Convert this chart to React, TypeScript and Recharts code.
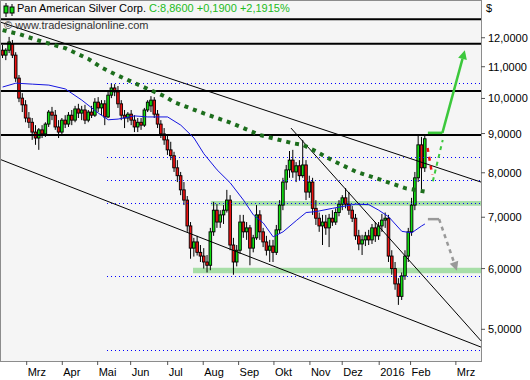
import { Bar, ComposedChart, Line, ReferenceArea, ReferenceLine, XAxis, YAxis } from 'recharts';

// one candle per ~2 trading days, Feb 2015 .. Feb 2016
const opens = [
  11.56, 11.39, 11.56, 11.78, 11.39, 10.63, 10.01, 9.81, 9.43, 9.31,
  9.04, 8.88, 9.1, 8.99, 9.26, 9.6, 9.51, 9.18, 9.04, 9.37,
  9.26, 9.51, 9.37, 9.69, 9.57, 9.66, 9.37, 9.6, 9.51, 9.89,
  9.72, 9.84, 9.46, 10.1, 10.32, 10.2, 9.84, 9.51, 9.43, 9.54,
  9.37, 9.18, 9.31, 9.23, 9.66, 9.78, 9.95, 9.54, 9.26, 8.99,
  8.83, 8.57, 8.42, 8.12, 7.93, 7.6, 7.37, 6.82, 6.38, 6.5,
  6.3, 6.23, 6.12, 6.06, 6.7, 7.15, 6.9, 7.05, 7.15, 7.37,
  6.44, 6.12, 6.34, 6.9, 6.7, 6.78, 6.38, 6.58, 7.05, 6.7,
  6.5, 6.34, 6.42, 6.3, 6.74, 7.26, 7.78, 8.07, 8.31, 8.02,
  8.17, 7.93, 8.19, 7.55, 7.78, 7.19, 6.98, 6.82, 6.9, 6.78,
  6.98, 6.9, 7.1, 7.28, 7.42, 7.28, 7.15, 6.98, 6.62, 6.46,
  6.54, 6.62, 6.54, 6.78, 6.62, 6.82, 6.94, 6.98, 6.23, 6.0,
  5.73, 5.52, 5.87, 6.23, 6.7, 7.26, 7.88, 8.7, 8.12,
];
const highs = [
  11.74, 11.63, 12.03, 11.92, 11.49, 10.73, 10.16, 9.95, 9.6, 9.43,
  9.23, 9.15, 9.23, 9.31, 9.66, 9.75, 9.66, 9.37, 9.43, 9.51,
  9.6, 9.66, 9.78, 9.84, 9.78, 9.81, 9.66, 9.78, 10.01, 10.04,
  9.95, 9.95, 10.2, 10.47, 10.44, 10.38, 9.95, 9.66, 9.6, 9.66,
  9.51, 9.43, 9.43, 9.72, 9.95, 10.07, 10.04, 9.66, 9.37, 9.15,
  8.94, 8.78, 8.52, 8.31, 8.02, 7.78, 7.46, 6.9, 6.58, 6.62,
  6.44, 6.38, 6.25, 6.78, 7.33, 7.28, 7.15, 7.26, 7.6, 7.48,
  6.58, 6.44, 7.05, 7.05, 6.9, 6.84, 6.64, 7.26, 7.15, 6.78,
  6.62, 6.54, 6.54, 6.84, 7.37, 7.88, 8.19, 8.54, 8.57, 8.26,
  8.31, 8.83, 8.31, 7.93, 7.88, 7.37, 7.1, 7.05, 7.05, 7.07,
  7.15, 7.19, 7.37, 7.48, 7.64, 7.55, 7.24, 7.07, 6.74, 6.64,
  6.7, 6.74, 6.86, 6.9, 6.9, 7.07, 7.1, 7.05, 6.34, 6.12,
  5.83, 5.93, 6.34, 6.78, 7.42, 8.02, 8.94, 8.91, 8.94,
];
const lows = [
  11.29, 11.22, 11.46, 11.29, 10.51, 9.89, 9.6, 9.31, 9.15, 8.83,
  8.7, 8.57, 8.88, 8.91, 9.18, 9.37, 9.1, 8.88, 8.96, 9.15,
  9.18, 9.23, 9.31, 9.43, 9.37, 9.26, 9.31, 9.43, 9.46, 9.6,
  9.51, 9.23, 9.43, 10.01, 10.07, 9.72, 9.37, 9.15, 9.31, 9.23,
  9.04, 9.04, 9.1, 9.18, 9.6, 9.6, 9.43, 9.15, 8.88, 8.7,
  8.44, 8.31, 8.02, 7.78, 7.48, 7.26, 6.7, 6.18, 6.22, 6.24,
  6.12, 6.0, 5.93, 5.97, 6.62, 6.78, 6.78, 6.86, 7.1, 6.34,
  5.89, 6.04, 6.27, 6.58, 6.54, 6.06, 6.3, 6.54, 6.54, 6.4,
  6.24, 6.12, 6.12, 6.25, 6.66, 7.15, 7.6, 7.88, 7.88, 7.78,
  7.83, 7.88, 7.37, 7.42, 7.05, 6.84, 6.7, 6.44, 6.64, 6.4,
  6.82, 6.84, 7.02, 7.15, 7.19, 7.05, 6.9, 6.54, 6.34, 6.25,
  6.42, 6.44, 6.46, 6.5, 6.54, 6.7, 6.78, 6.12, 5.89, 5.63,
  5.38, 5.46, 5.8, 6.12, 6.62, 7.15, 7.78, 7.6, 8.02,
];
const closes = [
  11.39, 11.56, 11.85, 11.39, 10.63, 10.01, 9.81, 9.43, 9.31, 9.04,
  8.88, 9.1, 8.99, 9.26, 9.6, 9.51, 9.18, 9.04, 9.37, 9.26,
  9.51, 9.37, 9.69, 9.57, 9.66, 9.37, 9.6, 9.51, 9.89, 9.72,
  9.84, 9.46, 10.1, 10.32, 10.2, 9.84, 9.51, 9.43, 9.54, 9.37,
  9.18, 9.31, 9.23, 9.66, 9.89, 9.95, 9.54, 9.26, 8.99, 8.83,
  8.57, 8.42, 8.12, 7.93, 7.6, 7.37, 6.82, 6.38, 6.5, 6.3,
  6.23, 6.12, 6.06, 6.7, 7.15, 6.9, 7.05, 7.15, 7.37, 6.44,
  6.12, 6.34, 6.9, 6.7, 6.78, 6.38, 6.58, 7.05, 6.7, 6.5,
  6.34, 6.42, 6.3, 6.74, 7.26, 7.78, 8.07, 8.31, 8.02, 8.17,
  7.93, 8.19, 7.55, 7.78, 7.19, 6.98, 6.82, 6.9, 6.78, 6.98,
  6.9, 7.1, 7.28, 7.42, 7.28, 7.15, 6.98, 6.62, 6.46, 6.54,
  6.62, 6.54, 6.78, 6.62, 6.82, 6.94, 6.98, 6.23, 6.0, 5.73,
  5.52, 5.87, 6.23, 6.7, 7.26, 7.88, 8.7, 8.12, 8.86,
];

// moving averages (slot -> price)
const ma50Slots = [0, 4, 9, 14, 19, 24, 29, 32, 35, 40, 44, 50, 54, 58, 61, 65, 69, 73, 76, 79, 82, 85, 89, 92, 95, 100, 107, 111, 114, 117, 121, 124, 127, 128];
const ma50Values = [10.35, 10.47, 10.44, 10.41, 10.29, 9.95, 9.57, 9.38, 9.4, 9.49, 9.46, 9.46, 9.23, 8.88, 8.47, 8.07, 7.76, 7.37, 7.05, 6.88, 6.6, 6.7, 6.93, 7.1, 7.12, 7.19, 7.28, 7.27, 7.15, 7.01, 6.71, 6.68, 6.82, 6.86];
const ma200Slots = [0, 5, 12, 19, 26, 30, 35, 42, 49, 52, 61, 69, 78, 88, 91, 95, 100, 107, 114, 122, 128];
const ma200Values = [12.28, 12.13, 11.86, 11.63, 11.26, 10.97, 10.71, 10.38, 10.07, 9.89, 9.56, 9.3, 8.96, 8.74, 8.7, 8.53, 8.3, 8.03, 7.85, 7.64, 7.56];

const monthTicks = [7.29, 18.08, 28.8, 38.8, 50.02, 60.8, 71.53, 82.23, 93.14, 102.93, 114.14, 123.65, 137.38];
const monthLabels = ['Mrz', 'Apr', 'Mai', 'Jun', 'Jul', 'Aug', 'Sep', 'Okt', 'Nov', 'Dez', '2016', 'Feb', 'Mrz'];
const priceTicks = [5, 6, 7, 8, 9, 10, 11, 12];

const resistanceLevels = [12.69, 11.79, 10.23, 8.96];
const dottedLevels = [10.47, 8.39, 7.82, 7.3, 5.87, 4.7];
const dottedStart = 31.6;
const bandStarts = [63.1, 57.7];
const bandLows = [7.245, 5.915];
const bandHighs = [7.35, 6.016];

// trendlines: [slot1, price1, slot2, price2]
const trendlines = [
  [-0.5, 12.57, 145, 7.78],
  [-0.5, 8.32, 145, 4.74],
  [87.4, 9.15, 145, 4.83],
];

const X_MIN = -0.5;
const X_MAX = 145;
const Y_MIN = 4.546;
const Y_MAX = 13.4;

const candles = opens.map((o, i) => ({
  s: i,
  range: [lows[i], highs[i]],
  o,
  h: highs[i],
  l: lows[i],
  c: closes[i],
}));
const ma50 = ma50Slots.map((s, i) => ({ s, v: ma50Values[i] }));
const ma200 = ma200Slots.map((s, i) => ({ s, v: ma200Values[i] }));

const font = 'Liberation Sans, Arial, sans-serif';

const Candle = (props: any) => {
  const { x, y, width, height, payload } = props;
  if (!payload || x == null || y == null) return null;
  const top = Math.min(y, y + height);
  const bottom = Math.max(y, y + height);
  const cx = x + width / 2;
  const lnH = Math.log(payload.h);
  const span = lnH - Math.log(payload.l) || 1;
  const at = (v: number) => top + ((bottom - top) * (lnH - Math.log(v))) / span;
  const yo = at(payload.o);
  const yc = at(payload.c);
  const up = payload.c >= payload.o;
  return (
    <g>
      <line x1={cx} x2={cx} y1={top} y2={bottom} stroke="#000" strokeWidth={1} />
      <rect
        x={cx - 1.3}
        y={Math.min(yo, yc)}
        width={2.6}
        height={Math.max(Math.abs(yo - yc), 1)}
        fill={up ? '#11dd11' : '#ee1111'}
        stroke="#000"
        strokeWidth={0.9}
      />
    </g>
  );
};

// horizontal blue dotted level, snapped to a pixel row so the dots stay crisp
const DottedLine = (props: any) => {
  const { x1, y1, x2 } = props;
  const yy = Math.round(y1) + 0.5;
  return (
    <line
      x1={Math.round(x1)}
      x2={x2}
      y1={yy}
      y2={yy}
      stroke="#0000ff"
      strokeWidth={1}
      strokeDasharray="1 3"
      shapeRendering="crispEdges"
    />
  );
};

const ArrowLine = (props: any) => {
  const { x1, y1, x2, y2, stroke, strokeWidth, strokeDasharray } = props;
  const ang = Math.atan2(y2 - y1, x2 - x1);
  const bx = x2 - 9 * Math.cos(ang);
  const by = y2 - 9 * Math.sin(ang);
  const px = -Math.sin(ang) * 4.5;
  const py = Math.cos(ang) * 4.5;
  return (
    <g>
      <line x1={x1} y1={y1} x2={bx} y2={by} stroke={stroke} strokeWidth={strokeWidth} strokeDasharray={strokeDasharray} />
      <polygon points={`${x2},${y2} ${bx + px},${by + py} ${bx - px},${by - py}`} fill={stroke} />
    </g>
  );
};

const MonthTick = ({ x, y, payload }: any) => (
  <text x={x + 1} y={y + 9} fontSize={11} fontFamily={font} fill="#000">
    {monthLabels[monthTicks.indexOf(payload.value)]}
  </text>
);

const PriceTick = ({ x, y, payload }: any) => (
  <text x={x + 1} y={y + 4} fontSize={11} fontFamily={font} fill="#000">
    {payload.value.toFixed(4).replace('.', ',')}
  </text>
);

export default function App() {
  return (
    <div style={{ position: 'absolute', left: 0, top: 0, width: 530, height: 380, background: '#fff' }}>
      <div
        style={{
          position: 'absolute',
          left: 0,
          top: 0,
          width: 482,
          height: 362,
          boxSizing: 'border-box',
          border: '1px solid #8c8c8c',
          background: '#f5f5f5',
        }}
      />
      <ComposedChart
        width={530}
        height={380}
        data={candles}
        margin={{ top: 1, right: 0, bottom: 0, left: 1 }}
        style={{ position: 'absolute', left: 0, top: 0 }}
      >
        <XAxis
          dataKey="s"
          type="number"
          domain={[X_MIN, X_MAX]}
          allowDataOverflow
          ticks={monthTicks}
          interval={0}
          tickSize={4}
          height={19}
          axisLine={false}
          tickLine={{ stroke: '#555' }}
          tick={<MonthTick />}
        />
        <YAxis
          orientation="right"
          scale="log"
          type="number"
          domain={[Y_MIN, Y_MAX]}
          allowDataOverflow
          ticks={priceTicks}
          interval={0}
          tickSize={4}
          width={49}
          axisLine={false}
          tickLine={{ stroke: '#555' }}
          tick={<PriceTick />}
        />
        {bandStarts.map((start, i) => (
          <ReferenceArea
            key={`band-${i}`}
            x1={start}
            x2={X_MAX}
            y1={bandLows[i]}
            y2={bandHighs[i]}
            fill="#33bb33"
            fillOpacity={0.4}
            stroke="none"
            ifOverflow="visible"
          />
        ))}
        {dottedLevels.map((lvl) => (
          <ReferenceLine
            key={`dot-${lvl}`}
            segment={[
              { x: dottedStart, y: lvl },
              { x: X_MAX, y: lvl },
            ]}
            stroke="#0000ff"
            shape={<DottedLine />}
            ifOverflow="visible"
          />
        ))}
        {resistanceLevels.map((lvl) => (
          <ReferenceLine key={`res-${lvl}`} y={lvl} stroke="#000" strokeWidth={2} ifOverflow="visible" />
        ))}
        {trendlines.map((t, i) => (
          <ReferenceLine
            key={`trend-${i}`}
            segment={[
              { x: t[0], y: t[1] },
              { x: t[2], y: t[3] },
            ]}
            stroke="#000"
            strokeWidth={1}
            ifOverflow="visible"
          />
        ))}
        <Bar dataKey="range" barSize={3} shape={<Candle />} isAnimationActive={false} />
        <Line data={ma50} dataKey="v" stroke="#1515e0" strokeWidth={1} dot={false} isAnimationActive={false} />
        <Line
          data={ma200}
          dataKey="v"
          stroke="#1d6e1d"
          strokeWidth={4}
          strokeDasharray="4 5"
          dot={false}
          isAnimationActive={false}
        />
        {/* scenario arrows */}
        <ReferenceLine
          segment={[
            { x: 128.8, y: 8.62 },
            { x: 130.2, y: 7.95 },
          ]}
          stroke="#ee1111"
          strokeWidth={2.5}
          strokeDasharray="4 5"
          ifOverflow="visible"
        />
        <ReferenceLine
          segment={[
            { x: 130.4, y: 7.8 },
            { x: 133.4, y: 8.83 },
          ]}
          stroke="#3cc83c"
          strokeWidth={2}
          strokeDasharray="4 4"
          ifOverflow="visible"
        />
        <ReferenceLine
          segment={[
            { x: 128.9, y: 9.02 },
            { x: 133.3, y: 9.02 },
          ]}
          stroke="#3cc83c"
          strokeWidth={2.5}
          ifOverflow="visible"
        />
        <ReferenceLine
          segment={[
            { x: 133.3, y: 9.02 },
            { x: 140.1, y: 11.56 },
          ]}
          stroke="#3cc83c"
          strokeWidth={2.5}
          shape={<ArrowLine />}
          ifOverflow="visible"
        />
        <ReferenceLine
          segment={[
            { x: 128.9, y: 6.96 },
            { x: 132.3, y: 6.96 },
          ]}
          stroke="#999"
          strokeWidth={2.5}
          ifOverflow="visible"
        />
        <ReferenceLine
          segment={[
            { x: 132.3, y: 6.96 },
            { x: 137.7, y: 5.96 },
          ]}
          stroke="#999"
          strokeWidth={2.5}
          strokeDasharray="4 4"
          shape={<ArrowLine />}
          ifOverflow="visible"
        />
      </ComposedChart>
      <svg width={12} height={14} style={{ position: 'absolute', left: 3, top: 3 }}>
        <line x1={3} x2={3} y1={0} y2={14} stroke="#000" />
        <rect x={1} y={3} width={4} height={7} fill="#11dd11" stroke="#000" />
        <line x1={9} x2={9} y1={1} y2={13} stroke="#000" />
        <rect x={7} y={4} width={4} height={6} fill="#11dd11" stroke="#000" />
      </svg>
      <div style={{ position: 'absolute', left: 17, top: 2, fontFamily: font, fontSize: 11, whiteSpace: 'nowrap' }}>
        <span style={{ color: '#000' }}>Pan American Silver Corp.</span>
        <span style={{ color: '#22bb22' }}> C:8,8600 +0,1900 +2,1915%</span>
      </div>
      <div style={{ position: 'absolute', left: 4, top: 19, fontFamily: font, fontSize: 11, color: '#333', whiteSpace: 'nowrap' }}>
        © www.tradesignalonline.com
      </div>
      <div style={{ position: 'absolute', left: 486, top: 2, fontFamily: font, fontSize: 11, color: '#000' }}>$</div>
    </div>
  );
}
